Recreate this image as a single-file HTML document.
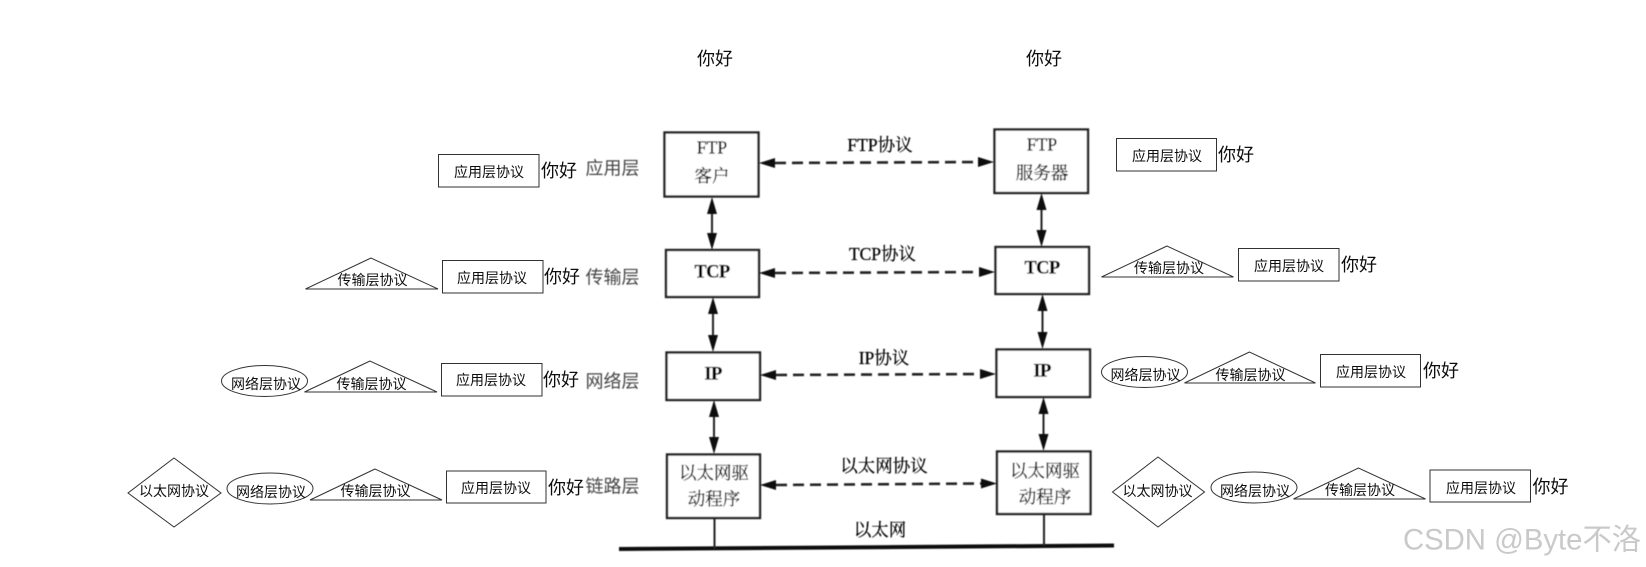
<!DOCTYPE html>
<html lang="zh"><head><meta charset="utf-8"><title>TCP/IP</title>
<style>
html,body{margin:0;padding:0;background:#fff;width:1646px;height:567px;overflow:hidden}
svg{display:block}
text{text-anchor:middle;dominant-baseline:central}
.s{font-family:"Liberation Sans","Noto Sans CJK SC",sans-serif;fill:#111}
.p{font-size:14px;transform:translateY(1px)}
.h{font-size:18px;transform:translateY(2px)}
.r{font-family:"Liberation Serif","Noto Serif CJK SC",serif;fill:#000;font-size:17.5px;stroke:#000;stroke-width:.25px;transform:translateY(1px)}
.b{font-weight:bold;font-size:18.5px;letter-spacing:-.6px;fill:#000}
.l{fill:#444;font-size:18px;transform:translateY(1.5px)}
.o{fill:#fff;stroke:#333;stroke-width:1}
.x{fill:#fff;stroke:#222;stroke-width:2.4}
.d{stroke:#222;stroke-width:2.6;stroke-dasharray:11 6;fill:none}
.v{stroke:#222;stroke-width:2;fill:none}
</style></head><body>
<svg width="1646" height="567" viewBox="0 0 1646 567" xmlns="http://www.w3.org/2000/svg">
<defs><filter id="f" x="-2%" y="-2%" width="104%" height="104%"><feGaussianBlur stdDeviation="0.55"/></filter>
<filter id="g" x="-2%" y="-2%" width="104%" height="104%"><feGaussianBlur stdDeviation="0.25"/></filter></defs>
<rect width="1646" height="567" fill="#fff"/>
<g filter="url(#f)">
<rect class="x" x="664.500" y="132.500" width="94" height="64"/>
<rect class="x" x="666" y="250" width="93" height="47"/>
<rect class="x" x="666.500" y="352.500" width="93.500" height="47.500"/>
<rect class="x" x="667" y="454.500" width="93" height="63.500"/>
<rect class="x" x="994.500" y="129.500" width="93.500" height="63.500"/>
<rect class="x" x="995.500" y="247" width="93.500" height="47"/>
<rect class="x" x="996.500" y="349.500" width="93.500" height="47.500"/>
<rect class="x" x="997" y="451.500" width="93.500" height="62.500"/>
<polygon points="619,547 1114,543.500 1114,547.500 619,551" fill="#111"/>
<line class="v" x1="714.500" y1="518" x2="714.500" y2="549"/>
<line class="v" x1="1044" y1="514" x2="1044" y2="546"/>
<line class="v" x1="712" y1="205" x2="712" y2="242"/><polygon points="712,197 707,214 717,214" fill="#111"/><polygon points="712,250 707,233 717,233" fill="#111"/>
<line class="v" x1="713" y1="305" x2="713" y2="344"/><polygon points="713,297 708,314 718,314" fill="#111"/><polygon points="713,352 708,335 718,335" fill="#111"/>
<line class="v" x1="714" y1="408" x2="714" y2="446"/><polygon points="714,400 709,417 719,417" fill="#111"/><polygon points="714,454 709,437 719,437" fill="#111"/>
<line class="v" x1="1041.500" y1="201" x2="1041.500" y2="239"/><polygon points="1041.500,193 1036.500,210 1046.500,210" fill="#111"/><polygon points="1041.500,247 1036.500,230 1046.500,230" fill="#111"/>
<line class="v" x1="1042.500" y1="302" x2="1042.500" y2="341"/><polygon points="1042.500,294 1037.500,311 1047.500,311" fill="#111"/><polygon points="1042.500,349 1037.500,332 1047.500,332" fill="#111"/>
<line class="v" x1="1043.500" y1="405" x2="1043.500" y2="443"/><polygon points="1043.500,397 1038.500,414 1048.500,414" fill="#111"/><polygon points="1043.500,451 1038.500,434 1048.500,434" fill="#111"/>
<line class="d" x1="775" y1="163" x2="978" y2="162"/><polygon points="759,163 775,158 775,168" fill="#111"/><polygon points="994,162 978,157 978,167" fill="#111"/>
<line class="d" x1="775" y1="273" x2="979" y2="272"/><polygon points="759,273 775,268 775,278" fill="#111"/><polygon points="995,272 979,267 979,277" fill="#111"/>
<line class="d" x1="776" y1="375" x2="980" y2="374"/><polygon points="760,375 776,370 776,380" fill="#111"/><polygon points="996,374 980,369 980,379" fill="#111"/>
<line class="d" x1="776" y1="485" x2="981" y2="483.500"/><polygon points="760,485 776,480 776,490" fill="#111"/><polygon points="997,483.500 981,478.500 981,488.500" fill="#111"/>
<text class="r" x="712" y="146.500">FTP</text><text class="r" x="712" y="175">客户</text>
<text class="r b" x="712" y="271.500">TCP</text><text class="r b" x="713" y="373.500">IP</text>
<text class="r" x="714" y="472">以太网驱</text><text class="r" x="714" y="498">动程序</text>
<text class="r" x="1042" y="143.500">FTP</text><text class="r" x="1042" y="172">服务器</text>
<text class="r b" x="1042" y="267.500">TCP</text><text class="r b" x="1042" y="370.500">IP</text>
<text class="r" x="1045" y="470">以太网驱</text><text class="r" x="1045" y="496">动程序</text>
<text class="r" x="880" y="144">FTP协议</text><text class="r" x="882.500" y="253">TCP协议</text>
<text class="r" x="884" y="357">IP协议</text><text class="r" x="884" y="465">以太网协议</text><text class="r" x="880" y="529">以太网</text>
<text class="s l" x="612.500" y="167">应用层</text><text class="s l" x="612.500" y="276">传输层</text>
<text class="s l" x="612.500" y="380">网络层</text><text class="s l" x="612.500" y="485">链路层</text>
</g>
<g filter="url(#g)">
<rect class="o" x="438.500" y="154.500" width="100.500" height="32.500"/>
<text class="s p" x="489" y="171">应用层协议</text><text class="s h" x="559" y="169">你好</text>
<polygon class="o" points="371,258 305.500,289 438,289"/><text class="s p" x="372.500" y="279">传输层协议</text>
<rect class="o" x="442.500" y="260.500" width="100.500" height="32.500"/>
<text class="s p" x="492" y="277">应用层协议</text><text class="s h" x="562" y="275">你好</text>
<ellipse class="o" cx="264.500" cy="381" rx="43" ry="15.500"/><text class="s p" x="266" y="383">网络层协议</text>
<polygon class="o" points="370,361 304.500,392 437,392"/><text class="s p" x="371.500" y="383">传输层协议</text>
<rect class="o" x="441.500" y="363.500" width="100.500" height="32.500"/>
<text class="s p" x="491" y="379">应用层协议</text><text class="s h" x="561" y="378">你好</text>
<polygon class="o" points="174,458 221,493 174,527 128,493"/><text class="s p" x="174" y="490">以太网协议</text>
<ellipse class="o" cx="270" cy="488.500" rx="43" ry="15.500"/><text class="s p" x="271" y="491">网络层协议</text>
<polygon class="o" points="375,469 310,500 442,500"/><text class="s p" x="375.500" y="490">传输层协议</text>
<rect class="o" x="446.500" y="471" width="99.500" height="32"/>
<text class="s p" x="496" y="487">应用层协议</text><text class="s h" x="566" y="486">你好</text>
<rect class="o" x="1116.500" y="138.500" width="100" height="32.500"/>
<text class="s p" x="1167" y="155">应用层协议</text><text class="s h" x="1236" y="153">你好</text>
<polygon class="o" points="1167,246 1101.500,277 1233.500,277"/><text class="s p" x="1169" y="267">传输层协议</text>
<rect class="o" x="1238.500" y="248.500" width="100.500" height="32.500"/>
<text class="s p" x="1289" y="265">应用层协议</text><text class="s h" x="1359" y="263">你好</text>
<ellipse class="o" cx="1144.500" cy="372" rx="43" ry="15.500"/><text class="s p" x="1145.500" y="374">网络层协议</text>
<polygon class="o" points="1249.500,352 1184.500,383 1315.500,383"/><text class="s p" x="1250.500" y="374">传输层协议</text>
<rect class="o" x="1320.500" y="354.500" width="100" height="32.500"/>
<text class="s p" x="1371" y="371">应用层协议</text><text class="s h" x="1441" y="369">你好</text>
<polygon class="o" points="1158,457 1204.500,492 1158,527 1112.500,492"/><text class="s p" x="1157.500" y="490">以太网协议</text>
<ellipse class="o" cx="1254" cy="487.500" rx="43" ry="15.500"/><text class="s p" x="1255" y="490">网络层协议</text>
<polygon class="o" points="1358.500,468 1293.500,499 1425.500,499"/><text class="s p" x="1360" y="489">传输层协议</text>
<rect class="o" x="1430" y="470" width="100.500" height="32"/>
<text class="s p" x="1481" y="487">应用层协议</text><text class="s h" x="1550.500" y="485">你好</text>
<text class="s h" x="715" y="57">你好</text><text class="s h" x="1044" y="57">你好</text>
<text class="s" x="1522" y="540" style="font-size:29.300px;fill:#c9c9c9">CSDN @Byte不洛</text>
</g>
</svg>
</body></html>
